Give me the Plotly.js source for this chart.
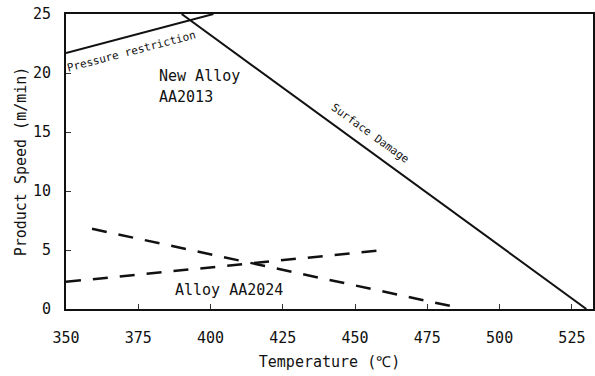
<!DOCTYPE html>
<html>
<head>
<meta charset="utf-8">
<script src="https://cdn.plot.ly/plotly-3.0.1.min.js"></script>
<style>html,body{margin:0;padding:0;background:#fff;}#chart{width:595px;height:376px;}</style>
</head>
<body>
<div id="chart"></div>
<script>
// Pressure restriction line
const pressureTemp = [350, 401];
const pressureSpeed = [21.7, 25];
// Surface damage line
const surfaceTemp = [390, 530];
const surfaceSpeed = [25, 0];
// AA2024 dashed limits
const aa2024UpperTemp = [359, 485];
const aa2024UpperSpeed = [6.8, 0.15];
const aa2024LowerTemp = [350, 460];
const aa2024LowerSpeed = [2.3, 5.0];
// Axis ticks
const xTicks = [350, 375, 400, 425, 450, 475, 500, 525];
const yTicks = [0, 5, 10, 15, 20, 25];

const FONT = "DejaVu Sans Mono, Liberation Mono, monospace";

const solid = {color: '#111', width: 2};
const dashed = {color: '#111', width: 2.5, dash: '15px,12px'};

const traces = [
  {x: pressureTemp, y: pressureSpeed, mode: 'lines', line: solid},
  {x: surfaceTemp, y: surfaceSpeed, mode: 'lines', line: solid},
  {x: aa2024UpperTemp, y: aa2024UpperSpeed, mode: 'lines', line: dashed},
  {x: aa2024LowerTemp, y: aa2024LowerSpeed, mode: 'lines', line: dashed}
];

const layout = {
  width: 595, height: 376,
  margin: {l: 66, r: 2, t: 14, b: 67},
  paper_bgcolor: '#fff', plot_bgcolor: '#fff',
  showlegend: false,
  font: {family: FONT, color: '#111', size: 15},
  xaxis: {
    range: [350, 532.3],
    tickvals: xTicks, ticktext: xTicks.map(String),
    ticks: 'inside', ticklen: 5, tickwidth: 1, tickcolor: '#333',
    ticklabelstandoff: 14,
    showgrid: false, zeroline: false,
    showline: true, linecolor: '#111', linewidth: 2, mirror: true,
    title: {text: 'Temperature (℃)', font: {size: 15}, standoff: 10},
    tickfont: {size: 15}
  },
  yaxis: {
    range: [0, 25],
    tickvals: yTicks, ticktext: yTicks.map(String),
    ticks: 'inside', ticklen: 5, tickwidth: 1, tickcolor: '#333',
    ticklabelstandoff: 10,
    showgrid: false, zeroline: false,
    showline: true, linecolor: '#111', linewidth: 2, mirror: true,
    title: {text: 'Product Speed (m/min)', font: {size: 15}, standoff: 3},
    tickfont: {size: 15}
  },
  annotations: [
    {x: 372.6, y: 21.86, text: 'Pressure restriction', showarrow: false, textangle: -14.7,
     font: {size: 11}, xref: 'x', yref: 'y'},
    {x: 455.3, y: 14.9, text: 'Surface Damage', showarrow: false, textangle: 36,
     font: {size: 11}, xref: 'x', yref: 'y'},
    {x: 381.6, y: 19.75, text: 'New Alloy', showarrow: false, xanchor: 'left',
     font: {size: 15}, xref: 'x', yref: 'y'},
    {x: 381.6, y: 17.95, text: 'AA2013', showarrow: false, xanchor: 'left',
     font: {size: 15}, xref: 'x', yref: 'y'},
    {x: 406.5, y: 1.61, text: 'Alloy AA2024', showarrow: false,
     font: {size: 15}, xref: 'x', yref: 'y'}
  ]
};

Plotly.newPlot('chart', traces, layout, {displayModeBar: false, staticPlot: true});
</script>
</body>
</html>
